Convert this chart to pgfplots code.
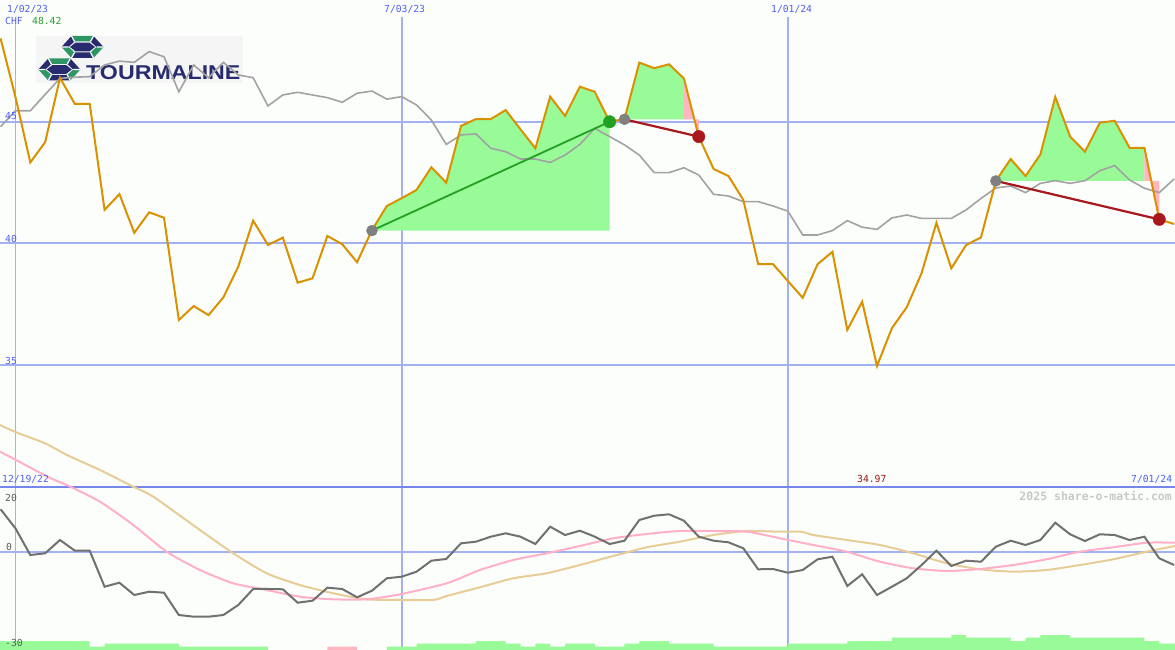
\documentclass[border=0pt]{standalone}
\usepackage{fontspec}
\usepackage{pgfplots}
\usepackage{pgfplotstable}
\pgfplotsset{compat=1.18}
\newfontfamily\lblfont{DejaVu Sans Mono}
\newfontfamily\logofont{Liberation Sans}
\newcommand{\lbl}{\lblfont\fontsize{9.7}{10}\selectfont}
\definecolor{bg}{RGB}{252,254,252}
\definecolor{gridblue}{RGB}{162,178,240}
\definecolor{sepblue}{RGB}{118,134,234}
\definecolor{lblblue}{RGB}{80,96,240}
\definecolor{orangeline}{RGB}{218,145,0}
\definecolor{greyline}{RGB}{162,162,162}
\definecolor{darkgrey}{RGB}{112,112,112}
\definecolor{pinkline}{RGB}{255,176,200}
\definecolor{tanline}{RGB}{232,204,150}
\definecolor{gfill}{RGB}{152,251,152}
\definecolor{pfill}{RGB}{255,182,193}
\definecolor{gline}{RGB}{34,160,34}
\definecolor{rline}{RGB}{168,24,28}
\definecolor{gmark}{RGB}{128,128,128}
\definecolor{navy}{RGB}{40,44,110}
\definecolor{logogreen}{RGB}{46,150,100}
\definecolor{logobg}{RGB}{245,245,245}
\definecolor{txtgreen}{RGB}{40,160,40}
\definecolor{txtred}{RGB}{160,20,20}
\definecolor{txtgrey}{RGB}{90,90,90}
\definecolor{wmgrey}{RGB}{200,200,200}

% week index, close price, comparison line
\pgfplotstableread{
i close rel
0 48.42 44.80
1 46.02 45.45
2 43.33 45.45
3 44.16 46.12
4 46.80 46.78
5 45.73 46.83
6 45.73 46.85
7 41.38 47.33
8 42.03 47.49
9 40.44 47.44
10 41.28 47.88
11 41.06 47.67
12 36.86 46.23
13 37.43 47.33
14 37.06 46.81
15 37.79 47.44
16 39.05 46.92
17 40.94 46.81
18 39.94 45.65
19 40.24 46.10
20 38.39 46.21
21 38.57 46.10
22 40.31 45.99
23 39.97 45.80
24 39.23 46.17
25 40.55 46.26
26 41.54 45.93
27 41.86 46.03
28 42.20 45.69
29 43.13 45.07
30 42.50 44.07
31 44.83 44.46
32 45.11 44.50
33 45.11 43.91
34 45.48 43.77
35 44.69 43.47
36 43.91 43.47
37 46.03 43.33
38 45.24 43.63
39 46.44 44.07
40 46.23 44.73
41 45.00 44.39
42 45.11 44.05
43 47.43 43.63
44 47.20 42.91
45 47.36 42.91
46 46.78 43.11
47 44.39 42.81
48 43.06 42.02
49 42.77 41.95
50 41.79 41.72
51 39.15 41.72
52 39.15 41.54
53 38.46 41.33
54 37.77 40.35
55 39.15 40.35
56 39.66 40.53
57 36.45 40.94
58 37.61 40.67
59 34.97 40.58
60 36.52 41.05
61 37.38 41.17
62 38.78 41.03
63 40.85 41.03
64 38.98 41.03
65 39.94 41.38
66 40.25 41.85
67 42.57 42.28
68 43.47 42.36
69 42.77 42.09
70 43.66 42.47
71 46.02 42.58
72 44.39 42.47
73 43.77 42.58
74 44.96 42.99
75 45.04 43.20
76 43.93 42.61
77 43.93 42.27
78 40.99 42.09
79 40.80 42.65
}\pricetable

% oscillator (momentum)
\pgfplotstableread{
i mom
0 17.2
1 9.49
2 -1.34
3 -0.65
4 4.75
5 0.41
6 0.41
7 -14.2
8 -12.58
9 -17.57
10 -16.23
11 -16.63
12 -25.68
13 -26.37
14 -26.37
15 -25.68
16 -21.62
17 -15.13
18 -15.13
19 -15.25
20 -20.69
21 -19.88
22 -14.6
23 -15.13
24 -18.5
25 -15.82
26 -10.79
27 -10.14
28 -8.11
29 -3.65
30 -2.96
31 3.41
32 4.06
33 6.09
34 7.46
35 6.09
36 3.12
37 10.14
38 6.77
39 8.52
40 6.09
41 3.12
42 4.46
43 12.86
44 14.6
45 15.17
46 12.58
47 6.09
48 4.46
49 3.81
50 1.38
51 -7.14
52 -7.02
53 -8.52
54 -7.42
55 -3.08
56 -2.03
57 -13.91
58 -9.17
59 -17.57
60 -14.2
61 -10.79
62 -5.4
63 0.41
64 -5.8
65 -3.65
66 -4.06
67 2.03
68 4.46
69 2.72
70 4.75
71 11.76
72 7.06
73 4.34
74 7.06
75 6.77
76 4.75
77 6.09
78 -2.68
79 -5.4
}\momtable

\pgfplotsset{base/.style={at={(0pt,0pt)}, anchor=north west, scale only axis,
  width=1175pt, height=650pt, xmin=-0.04, xmax=79.06, hide axis}}

\newcommand{\gem}[2]{%
  \fill[logogreen] (#1-11,#2-11) -- (#1+11,#2-11) -- (#1+8,#2-5.5) -- (#1-8,#2-5.5) -- cycle;
  \fill[navy] (#1+11,#2-11) -- (#1+21,#2) -- (#1+14,#2) -- (#1+8,#2-5.5) -- cycle;
  \fill[logogreen] (#1+21,#2) -- (#1+11,#2+11) -- (#1+8,#2+5.5) -- (#1+14,#2) -- cycle;
  \fill[navy] (#1+11,#2+11) -- (#1-11,#2+11) -- (#1-8,#2+5.5) -- (#1+8,#2+5.5) -- cycle;
  \fill[logogreen] (#1-11,#2+11) -- (#1-21,#2) -- (#1-14,#2) -- (#1-8,#2+5.5) -- cycle;
  \fill[navy] (#1-21,#2) -- (#1-11,#2-11) -- (#1-8,#2-5.5) -- (#1-14,#2) -- cycle;
  \draw[white, line width=1.2pt] (#1-11,#2-11) -- (#1-8,#2-5.5) (#1+11,#2-11) -- (#1+8,#2-5.5)
     (#1+21,#2) -- (#1+14,#2) (#1+11,#2+11) -- (#1+8,#2+5.5) (#1-11,#2+11) -- (#1-8,#2+5.5)
     (#1-21,#2) -- (#1-14,#2);
  \fill[navy] (#1-12.5,#2) -- (#1-7,#2-4.3) -- (#1+7,#2-4.3) -- (#1+12.5,#2) -- (#1+7,#2+4.3) -- (#1-7,#2+4.3) -- cycle;
}

\begin{document}
\begin{tikzpicture}
\path[use as bounding box] (0pt,0pt) rectangle (1175pt,-650pt);
\fill[bg] (0pt,0pt) rectangle (1175pt,-650pt);

\begin{scope}[x=1pt,y=-1pt]
  % logo
  \fill[logobg] (36,36) rectangle (243,83);
  \gem{82.5}{47}
  \gem{59.3}{69.5}
  \node[anchor=base west, inner sep=0, text=navy, xscale=1.16,
        font=\logofont\bfseries\fontsize{20}{20}\selectfont] at (86,79.3) {TOURMALINE};
  % vertical date lines and separator
  \draw[gridblue, line width=1pt] (15.5,23) -- (15.5,650);
  \draw[gridblue, line width=1.8pt] (401.7,17) -- (401.7,650);
  \draw[gridblue, line width=1.1pt] (788,17) -- (788,650);
  \draw[sepblue, line width=2pt] (0,486.7) -- (1175,486.7);
\end{scope}

% volume
\begin{axis}[base, ymin=0, ymax=216.667]
  \addplot[const plot mark left, fill=gfill, draw=none] coordinates {
    (-0.2,3) (6,1.1) (7,2.1) (12,1.1) (18,0) (26,1.1) (28,2.1) (32,3) (34,2.1)
    (35,1.1) (36,2.1) (37,1.1) (38,2.1) (40,1.1) (42,2.1) (43,3) (45,2.1) (48,1.1)
    (53,2.1) (57,3) (60,4.1) (64,5) (65,4.1) (68,3) (69,4.1) (70,5) (72,4.1)
    (77,3) (78,2.1) (79.2,2.1)} \closedcycle;
  \addplot[const plot mark left, fill=pfill, draw=none] coordinates {(22,1.1) (24,1.1)} \closedcycle;
\end{axis}

% oscillator panel
\begin{axis}[base, ymin=-39.88, ymax=223.81]
  \draw[gridblue, line width=2pt] (axis cs:-1,0) -- (axis cs:80,0);
  \addplot[tanline, line width=2pt, smooth, tension=0.4] coordinates {
    (-0.04,51.4) (1.04,48.44) (2.99,43.98) (4.47,39.23) (6.69,33.14) (8.93,26.37)
    (10.28,22.31) (13.42,8.8) (15.66,-0.65) (17.91,-8.76) (20.15,-13.51) (22.4,-16.88)
    (24.64,-19.31) (26.89,-19.59) (29.13,-19.59) (30.03,-17.97) (32.27,-14.44)
    (34.51,-10.79) (36.76,-8.76) (39.0,-5.4) (41.24,-1.74) (43.49,1.78) (45.73,4.06)
    (47.98,6.77) (50.23,8.4) (52.47,8.11) (53.93,8.11) (54.71,6.77) (56.96,4.75)
    (59.2,2.72) (61.44,-0.65) (63.69,-4.71) (65.93,-7.14) (68.17,-8.11) (70.42,-7.42)
    (72.66,-5.4) (74.9,-3.08) (77.15,0) (79.06,2.31)};
  \addplot[pinkline, line width=2pt, smooth, tension=0.4] coordinates {
    (-0.04,40.57) (1.04,37.2) (3.33,29.9) (4.45,27.06) (6.69,20.28) (8.93,10.83)
    (11.18,0) (13.42,-7.42) (15.66,-12.82) (17.91,-15.54) (20.15,-18.26) (22.38,-19.31)
    (24.64,-19.31) (26.89,-17.28) (30.03,-12.82) (32.27,-7.42) (34.51,-3.37)
    (36.76,-0.65) (39.0,2.31) (41.24,5.44) (43.49,7.18) (45.73,8.4) (47.98,8.4)
    (50.23,8.11) (52.47,5.44) (54.71,2.72) (56.96,0) (59.2,-4.06) (61.44,-6.73)
    (63.69,-7.83) (65.93,-7.02) (68.17,-5.4) (70.42,-3.08) (72.66,0) (74.9,1.78)
    (77.15,3.65) (79.06,3.65)};
  \addplot[darkgrey, line width=2pt] table[x=i, y=mom] {\momtable};
\end{axis}

% price panel
\begin{axis}[base, ymin=23.306, ymax=50]
  \draw[gridblue, line width=2pt] (axis cs:-1,45) -- (axis cs:80,45);
  \draw[gridblue, line width=2pt] (axis cs:-1,40) -- (axis cs:80,40);
  \draw[gridblue, line width=2pt] (axis cs:-1,35) -- (axis cs:80,35);
  % gain / loss areas
  \addplot[fill=gfill, draw=none] coordinates {
    (25,40.53) (25,40.55) (26,41.54) (27,41.86) (28,42.20) (29,43.13) (30,42.50)
    (31,44.83) (32,45.11) (33,45.11) (34,45.48) (35,44.69) (36,43.91) (37,46.03)
    (38,45.24) (39,46.44) (40,46.23) (41,45.00) (41,40.53)} -- cycle;
  \addplot[fill=gfill, draw=none] coordinates {
    (42,45.1) (42,45.11) (43,47.43) (44,47.20) (45,47.36) (46,46.78) (46,45.1)} -- cycle;
  \addplot[fill=pfill, draw=none] coordinates {(46,45.1) (46,46.78) (47,44.39) (47,45.1)} -- cycle;
  \addplot[fill=gfill, draw=none] coordinates {
    (67,42.57) (68,43.47) (69,42.77) (70,43.66) (71,46.02) (72,44.39) (73,43.77)
    (74,44.96) (75,45.04) (76,43.93) (77,43.93) (77,42.57)} -- cycle;
  \addplot[fill=pfill, draw=none] coordinates {(77,42.57) (77,43.93) (78,40.99) (78,42.57)} -- cycle;
  % comparison line
  \addplot[greyline, line width=1.6pt] table[x=i, y=rel] {\pricetable};
  % start markers
  \addplot[only marks, mark=*, mark size=5.5pt, mark options={fill=gmark, draw=gmark}]
    coordinates {(25,40.53) (42,45.1) (67,42.57)};
  % trend lines
  \addplot[gline, line width=1.8pt] coordinates {(25,40.53) (41,45.00)};
  \addplot[rline, line width=2.2pt] coordinates {(42,45.1) (47,44.39)};
  \addplot[rline, line width=2.2pt] coordinates {(67,42.57) (78,40.99)};
  % price
  \addplot[orangeline, line width=2pt] table[x=i, y=close] {\pricetable};
  % end markers
  \addplot[only marks, mark=*, mark size=6.2pt, mark options={fill=gline, draw=gline}]
    coordinates {(41,45.00)};
  \addplot[only marks, mark=*, mark size=6.2pt, mark options={fill=rline, draw=rline}]
    coordinates {(47,44.39) (78,40.99)};
\end{axis}

% texts
\begin{scope}[x=1pt,y=-1pt]
  \node[anchor=base west, inner sep=0, text=lblblue, font=\lbl] at (7,12.7) {1/02/23};
  \node[anchor=base west, inner sep=0, text=lblblue, font=\lbl] at (5,25) {CHF};
  \node[anchor=base west, inner sep=0, text=txtgreen, font=\lbl] at (32,25) {48.42};
  \node[anchor=base west, inner sep=0, text=lblblue, font=\lbl] at (384,12.7) {7/03/23};
  \node[anchor=base west, inner sep=0, text=lblblue, font=\lbl] at (771,12.7) {1/01/24};
  \node[anchor=base west, inner sep=0, text=lblblue, font=\lbl] at (5,120) {45};
  \node[anchor=base west, inner sep=0, text=lblblue, font=\lbl] at (5,242) {40};
  \node[anchor=base west, inner sep=0, text=lblblue, font=\lbl] at (5,364) {35};
  \node[anchor=base west, inner sep=0, text=lblblue, font=\lbl] at (2,482.7) {12/19/22};
  \node[anchor=base west, inner sep=0, text=txtred, font=\lbl] at (857,482.7) {34.97};
  \node[anchor=base west, inner sep=0, text=lblblue, font=\lbl] at (1131,482.7) {7/01/24};
  \node[anchor=base east, inner sep=0, text=wmgrey, font=\lblfont\bfseries\fontsize{11.5}{12}\selectfont] at (1172,500) {2025 share-o-matic.com};
  \node[anchor=base west, inner sep=0, text=txtgrey, font=\lbl] at (5,501.7) {20};
  \node[anchor=base west, inner sep=0, text=txtgrey, font=\lbl] at (6,550) {0};
  \node[anchor=base west, inner sep=0, text=txtgrey, font=\lbl] at (5,646) {-30};
\end{scope}
\end{tikzpicture}
\end{document}
